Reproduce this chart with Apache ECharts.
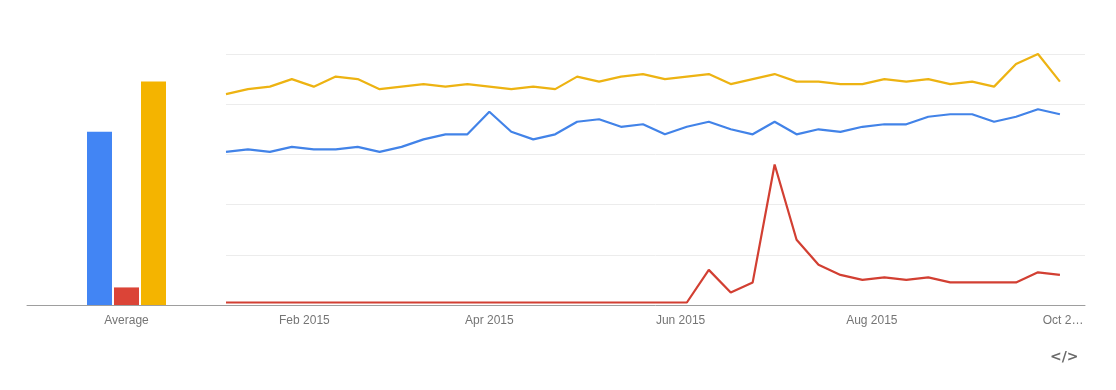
<!DOCTYPE html>
<html>
<head>
<meta charset="utf-8">
<script src="https://cdn.jsdelivr.net/npm/echarts@6/dist/echarts.min.js"></script>
<style>
html,body{margin:0;padding:0;background:#fff;}
#chart{width:1116px;height:390px;}
</style>
</head>
<body>
<div id="chart"></div>
<script>
// Weekly points (mid-week dates)
const weeks = [
  '2015-01-07','2015-01-14','2015-01-21','2015-01-28','2015-02-04','2015-02-11','2015-02-18','2015-02-25',
  '2015-03-04','2015-03-11','2015-03-18','2015-03-25','2015-04-01','2015-04-08','2015-04-15','2015-04-22',
  '2015-04-29','2015-05-06','2015-05-13','2015-05-20','2015-05-27','2015-06-03','2015-06-10','2015-06-17',
  '2015-06-24','2015-07-01','2015-07-08','2015-07-15','2015-07-22','2015-07-29','2015-08-05','2015-08-12',
  '2015-08-19','2015-08-26','2015-09-02','2015-09-09','2015-09-16','2015-09-23','2015-09-30'
];
const blueValues = [61,62,61,63,62,62,63,61,63,66,68,68,77,69,66,68,73,74,71,72,68,71,73,70,68,73,68,70,69,71,72,72,75,76,76,73,75,78,76];
const redValues = [1,1,1,1,1,1,1,1,1,1,1,1,1,1,1,1,1,1,1,1,1,1,14,5,9,56,26,16,12,10,11,10,11,9,9,9,9,13,12];
const yellowValues = [84,86,87,90,87,91,90,86,87,88,87,88,87,86,87,86,91,89,91,92,90,91,92,88,90,92,89,89,88,88,90,89,90,88,89,87,96,100,89];
const averages = [69, 7, 89];
const avgCategories = ['Average'];
const tickDates = ['2015-02-01','2015-04-01','2015-06-01','2015-08-01','2015-10-01'];
const tickLabels = ['Feb 2015','Apr 2015','Jun 2015','Aug 2015','Oct 2\u2026'];
const barColors = ['#4285F4','#DB4437','#F4B400'];
const lineColors = ['#4283E8','#D23F32','#EDB312'];
const names = ['Term 1','Term 2','Term 3'];

const toTs = s => { const p = s.split('-').map(Number); return Date.UTC(p[0], p[1]-1, p[2]); };
const tickTs = tickDates.map(toTs);
const labelFor = {};
tickTs.forEach((t,i)=>{ labelFor[t] = tickLabels[i]; });

const lineSeries = [blueValues, redValues, yellowValues].map((vals, k) => ({
  name: names[k], type: 'line', xAxisIndex: 1, yAxisIndex: 1,
  data: weeks.map((w,i)=>[toTs(w), vals[i]]),
  showSymbol: false, symbol: 'none', smooth: false,
  lineStyle: {width: 2.2, color: lineColors[k]}, itemStyle: {color: lineColors[k]},
  z: 3 + (k===1 ? 1 : 0)
}));
const barSeries = averages.map((v,k)=>({
  name: names[k], type: 'bar', xAxisIndex: 0, yAxisIndex: 0,
  data: [v], barWidth: 25, barGap: '8%', itemStyle: {color: barColors[k]}
}));

const labelStyle = {color:'#757575', fontSize:12, fontFamily:'"Liberation Sans", Arial, sans-serif', margin:10};
const chart = echarts.init(document.getElementById('chart'), null, {renderer:'canvas'});
chart.setOption({
  animation: false,
  backgroundColor: '#fff',
  grid: [
    {left: 27, top: 54, bottom: 85, width: 199},
    {left: 226, top: 54, bottom: 85, right: 31}
  ],
  xAxis: [
    {type:'category', gridIndex:0, data: avgCategories,
     axisLine:{lineStyle:{color:'#9e9e9e', width:1}}, axisTick:{show:false},
     axisLabel: labelStyle},
    {type:'value', gridIndex:1, min: toTs('2015-01-07'), max: toTs('2015-10-08'),
     axisLine:{lineStyle:{color:'#9e9e9e', width:1}}, axisTick:{show:false},
     splitLine:{show:false},
     axisLabel: Object.assign({}, labelStyle, {customValues: tickTs, hideOverlap:false,
       formatter: v => labelFor[v] || ''})}
  ],
  yAxis: [
    {type:'value', gridIndex:0, min:0, max:100, interval:20, show:false, splitLine:{show:false}},
    {type:'value', gridIndex:1, min:0, max:100, interval:20,
     axisLine:{show:false}, axisTick:{show:false}, axisLabel:{show:false},
     splitLine:{lineStyle:{color:'#ececec', width:1}}}
  ],
  series: barSeries.concat(lineSeries),
  graphic: [{
    type:'text', left: 1050, top: 350,
    style:{text:'</>', fill:'#6a6a6a', font:'bold 14px "DejaVu Sans", sans-serif'}
  }]
});
</script>
</body>
</html>
